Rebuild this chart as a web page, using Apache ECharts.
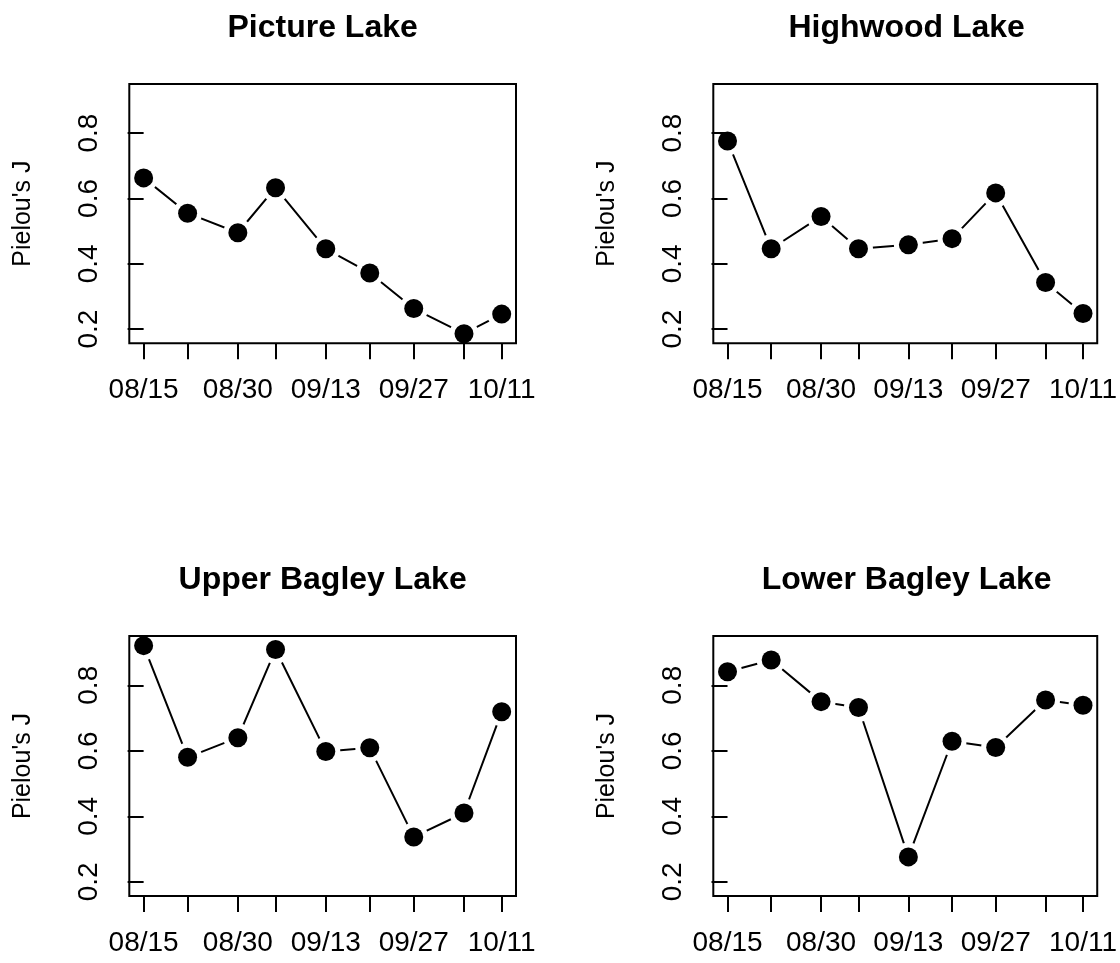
<!DOCTYPE html>
<html>
<head>
<meta charset="utf-8">
<script src="https://cdn.jsdelivr.net/npm/echarts@6/dist/echarts.min.js"></script>
<style>
html,body{margin:0;padding:0;background:#fff;}
#chart{width:1120px;height:963px;}
</style>
</head>
<body>
<div id="chart"></div>
<script>
// ---- data ----
const sampleDates = ['08/15','08/22','08/30','09/05','09/13','09/20','09/27','10/05','10/11'];
const dateLabels = ['08/15','08/30','09/13','09/27','10/11'];
const yTickValues = [0.2, 0.4, 0.6, 0.8];
const panelTitles = ['Picture Lake','Highwood Lake','Upper Bagley Lake','Lower Bagley Lake'];
const pictureLake     = [0.663, 0.555, 0.495, 0.633, 0.446, 0.372, 0.263, 0.186, 0.246];
const highwoodLake    = [0.776, 0.446, 0.545, 0.446, 0.458, 0.477, 0.617, 0.343, 0.248];
const upperBagleyLake = [0.921, 0.580, 0.640, 0.909, 0.598, 0.609, 0.337, 0.410, 0.719];
const lowerBagleyLake = [0.841, 0.877, 0.750, 0.732, 0.276, 0.629, 0.610, 0.755, 0.739];
const yAxisTitle = "Pielou's J";

// ---- helpers ----
function dayOf(s){ const p = s.split('/'); return Date.UTC(2000, +p[0]-1, +p[1]) / 86400000; }
const day0 = dayOf(sampleDates[0]);
const xDays = sampleDates.map(s => dayOf(s) - day0);
const labelDays = dateLabels.map(s => dayOf(s) - day0);
function fmtDay(v){
  const d = new Date((day0 + Math.round(v)) * 86400000);
  const mm = String(d.getUTCMonth()+1).padStart(2,'0');
  const dd = String(d.getUTCDate()).padStart(2,'0');
  return mm + '/' + dd;
}
const series4 = [pictureLake, highwoodLake, upperBagleyLake, lowerBagleyLake];
const allVals = [].concat(...series4);
const dMin = Math.min(...allVals), dMax = Math.max(...allVals);
const yMin = dMin - 0.04*(dMax-dMin), yMax = dMax + 0.04*(dMax-dMin);
const xSpan = xDays[xDays.length-1] - xDays[0];
const xMin = xDays[0] - 0.04*xSpan, xMax = xDays[xDays.length-1] + 0.04*xSpan;

const FONT = "'Liberation Sans', Arial, Helvetica, sans-serif";
const gridRects = [
  {left:129.3, top:84,  width:386.7, height:259.3},
  {left:713.3, top:84,  width:386.7, height:259.3},
  {left:129.3, top:636, width:386.7, height:260},
  {left:713.3, top:636, width:386.7, height:260}
];

const grids = [], xAxes = [], yAxes = [], series = [], titles = [];
gridRects.forEach((r, i) => {
  grids.push({show:true, left:r.left, top:r.top, width:r.width, height:r.height,
    borderColor:'#000', borderWidth:2, backgroundColor:'transparent', z:10});
  xAxes.push({type:'value', gridIndex:i, min:xMin, max:xMax, z:10,
    axisLine:{show:false}, splitLine:{show:false},
    axisTick:{show:true, length:16, lineStyle:{color:'#000', width:2}, customValues:xDays},
    axisLabel:{show:true, customValues:labelDays, formatter:fmtDay, fontSize:28, color:'#000',
      fontFamily:FONT, margin:33}
  });
  yAxes.push({type:'value', gridIndex:i, min:yMin, max:yMax, z:10,
    axisLine:{show:false}, splitLine:{show:false},
    axisTick:{show:true, length:16, lineStyle:{color:'#000', width:2}, customValues:yTickValues},
    axisLabel:{show:true, customValues:yTickValues, formatter:v => Number(v).toFixed(1), rotate:90,
      fontSize:28, color:'#000', fontFamily:FONT, margin:26},
    name:yAxisTitle, nameLocation:'middle', nameRotate:90, nameGap:94,
    nameTextStyle:{fontSize:25, color:'#000', fontFamily:FONT}
  });
  const pts = xDays.map((x, k) => [x, series4[i][k]]);
  series.push({type:'line', xAxisIndex:i, yAxisIndex:i, data:pts, showSymbol:false, symbol:'none',
    lineStyle:{color:'#000', width:2}, silent:true, animation:false, z:3});
  series.push({type:'scatter', xAxisIndex:i, yAxisIndex:i, data:pts, symbol:'circle', symbolSize:29,
    itemStyle:{color:'#fff', opacity:1, borderWidth:0}, silent:true, animation:false, z:4});
  series.push({type:'scatter', xAxisIndex:i, yAxisIndex:i, data:pts, symbol:'circle', symbolSize:19,
    itemStyle:{color:'#000', opacity:1}, silent:true, animation:false, z:5});
  titles.push({text:panelTitles[i], left:r.left + r.width/2, top:12, textAlign:'center', padding:0,
    textStyle:{fontSize:32, fontWeight:'bold', color:'#000', fontFamily:FONT}});
});
titles[2].top = 564; titles[3].top = 564;

const chart = echarts.init(document.getElementById('chart'), null, {renderer:'canvas'});
chart.setOption({
  animation:false,
  backgroundColor:'#fff',
  title:titles,
  grid:grids,
  xAxis:xAxes,
  yAxis:yAxes,
  series:series
});
</script>
</body>
</html>
